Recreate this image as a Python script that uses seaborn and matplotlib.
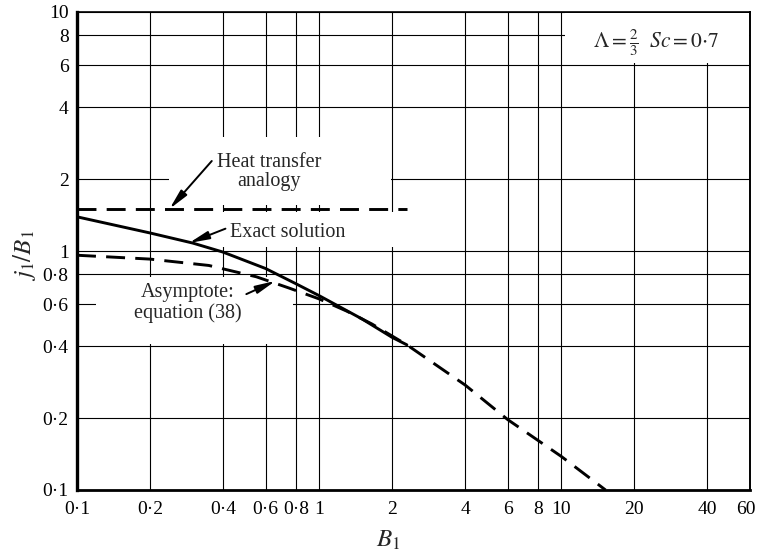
import numpy as np
import matplotlib
matplotlib.use('Agg')
import matplotlib.pyplot as plt
import matplotlib.transforms as mtransforms
from matplotlib.patches import Rectangle
import seaborn as sns

# values (log-log)
heat_x = [0.1, 2.3]
heat_y = [1.5, 1.5]

exact_x = [0.1, 0.2, 0.3, 0.4, 0.6, 0.8, 1.0, 1.5, 2.0, 2.3]
exact_y = [1.39, 1.19, 1.08, 0.99, 0.845, 0.73, 0.65, 0.52, 0.435, 0.405]

asym_x = [0.1, 0.2, 0.35, 0.55, 0.75, 1.0, 1.3, 1.65, 2.3, 4, 6, 10, 15.2]
asym_y = [0.96, 0.925, 0.87, 0.78, 0.70, 0.63, 0.56, 0.495, 0.405, 0.275, 0.197, 0.138, 0.1]

x_ticks = [0.1, 0.2, 0.4, 0.6, 0.8, 1, 2, 4, 6, 8, 10, 20, 40, 60]
x_labels = ['0·1', '0·2', '0·4', '0·6', '0·8', '1', '2', '4', '6', '8', '10', '20', '40', '60']
y_ticks = [0.1, 0.2, 0.4, 0.6, 0.8, 1, 2, 4, 6, 8, 10]
y_labels = ['0·1', '0·2', '0·4', '0·6', '0·8', '1', '2', '4', '6', '8', '10']

sns.set_theme(style='white')
plt.rcParams['font.family'] = ['Liberation Serif', 'DejaVu Serif']
plt.rcParams['mathtext.fontset'] = 'stix'

fig = plt.figure(figsize=(7.58, 5.54), dpi=100)
ax = fig.add_axes([77 / 758, 1 - 490 / 554, 673 / 758, 478 / 554])

ax.set_xscale('log')
ax.set_yscale('log')
ax.set_xlim(0.1, 60)
ax.set_ylim(0.1, 10)
ax.set_xticks(x_ticks)
ax.set_xticklabels(x_labels)
ax.set_yticks(y_ticks)
ax.set_yticklabels(y_labels)
ax.minorticks_off()
ax.tick_params(length=0, labelsize=14, colors='black')
ax.tick_params(axis='x', pad=8)
ax.tick_params(axis='y', pad=6)
ax.set_axisbelow(True)
ax.grid(True, color='black', lw=0.8)

# nudge the last x label so it stays inside the picture
last = ax.get_xticklabels()[-1]
last.set_transform(last.get_transform() +
                   mtransforms.ScaledTranslation(-4 / 100, 0, fig.dpi_scale_trans))

for side, w in [('left', 2.4), ('bottom', 2.0), ('top', 1.2), ('right', 1.4)]:
    ax.spines[side].set_visible(True)
    ax.spines[side].set_color('black')
    ax.spines[side].set_linewidth(w)

# white panels behind the labels (the printed grid is broken there)
for (x0, x1, y0, y1) in [(0.24, 1.97, 1.56, 3.0), (0.3, 2.2, 1.04, 1.45),
                         (0.12, 0.78, 0.41, 0.78), (10.3, 59.5, 6.1, 9.9)]:
    ax.add_patch(Rectangle((x0, y0), x1 - x0, y1 - y0, facecolor='white',
                           edgecolor='none', zorder=1))

sns.lineplot(x=heat_x, y=heat_y, ax=ax, color='black', lw=2.1,
             linestyle=(0, (6.5, 3.5)), zorder=3)
sns.lineplot(x=exact_x, y=exact_y, ax=ax, color='black', lw=2.1, zorder=3)
sns.lineplot(x=asym_x, y=asym_y, ax=ax, color='black', lw=2.1,
             linestyle=(0, (6.5, 3.5)), zorder=3)

arrow = dict(arrowstyle='-|>,head_length=1.0,head_width=0.2', color='black',
             lw=1.4, shrinkA=0, shrinkB=0)
ax.text(0.62, 2.14, 'Heat transfer\nanalogy', ha='center', va='center',
        fontsize=14.5, linespacing=1.05, zorder=4)
ax.annotate('', xy=(0.241, 1.5), xytext=(0.36, 2.38), arrowprops=arrow, zorder=4)

ax.text(0.74, 1.2, 'Exact solution', ha='center', va='center', fontsize=14.5, zorder=4)
ax.annotate('', xy=(0.29, 1.08), xytext=(0.41, 1.24), arrowprops=arrow, zorder=4)

ax.text(0.287, 0.606, 'Asymptote:\nequation (38)', ha='center', va='center',
        fontsize=14.5, linespacing=1.1, zorder=4)
ax.annotate('', xy=(0.66, 0.75), xytext=(0.50, 0.66), arrowprops=arrow, zorder=4)

ax.text(24.6, 7.42, r'$\Lambda = \frac{2}{3}\ \ Sc = 0{\cdot}7$', ha='center',
        va='center', fontsize=15.5, zorder=4)

ax.set_xlabel(r'$B_1$', fontsize=18)
ax.set_ylabel(r'$j_1/B_1$', fontsize=18)
ax.xaxis.set_label_coords(0.462, -0.08)
ax.yaxis.set_label_coords(-0.058, 0.49)

fig.savefig('out.png', dpi=100)
